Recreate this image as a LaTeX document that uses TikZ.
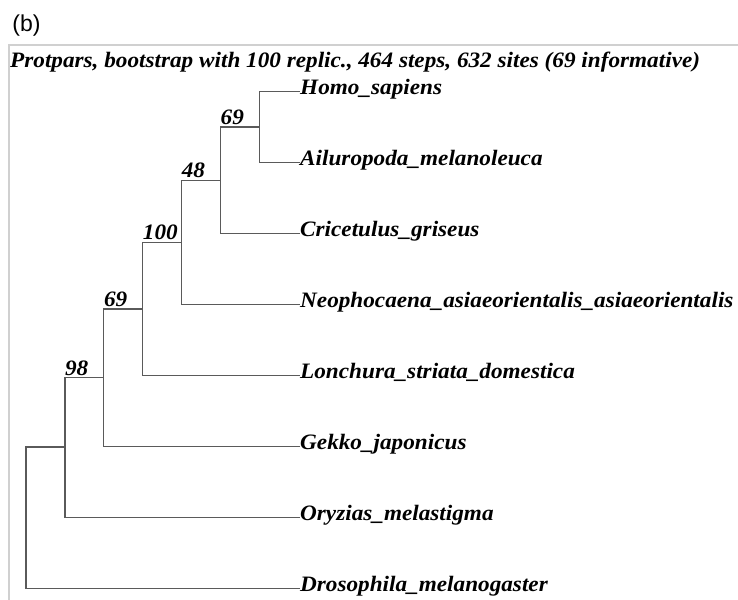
\documentclass[tikz,border=0pt]{standalone}
\usepackage{fontspec}
\setmainfont{Liberation Serif}
\setsansfont{Liberation Sans}
\newfontfamily\treefont{Liberation Serif}[FakeStretch=1.055]
\usetikzlibrary{positioning}

\definecolor{branchgray}{HTML}{5A5A5A}
\definecolor{framegray}{HTML}{D0D0D0}

\tikzset{
	leaf/.style={anchor=west,inner sep=0pt,font=\treefont\fontsize{22}{24}\selectfont\bfseries\itshape,
		text height=1.45ex,text depth=0pt},
	boot/.style={anchor=south west,inner sep=0pt,yshift=2pt,font=\treefont\fontsize{22}{24}\selectfont\bfseries\itshape},
	branch/.style={draw=branchgray,line width=1.3pt}
}

\begin{document}
\begin{tikzpicture}[x=1pt,y=-1pt]
					\useasboundingbox (0,0) rectangle (738,599);
					\node[font=\sffamily\fontsize{23}{25}\selectfont] (panel) at (26.5,26) {(b)};
					\draw[framegray,line width=1.5pt] (9,600) |- (739,45);
					\node[anchor=west,inner sep=0pt,font=\treefont\fontsize{22}{24}\selectfont\bfseries\itshape] (title) at (10,62)
					{Protpars, bootstrap with 100 replic., 464 steps, 632 sites (69 informative)};
					
					% leaves
					\node[leaf] (homo) at (300,91.5) {Homo\_sapiens};
					\node[leaf] (ailuro) at (300,162.5) {Ailuropoda\_melanoleuca};
					\node[leaf] (cricet) at (300,233.5) {Cricetulus\_griseus};
					\node[leaf] (neopho) at (300,304.5) {Neophocaena\_asiaeorientalis\_asiaeorientalis};
					\node[leaf] (lonch) at (300,375.5) {Lonchura\_striata\_domestica};
					\node[leaf] (gekko) at (300,446.5) {Gekko\_japonicus};
					\node[leaf] (oryz) at (300,517.5) {Oryzias\_melastigma};
					\node[leaf] (droso) at (300,588.5) {Drosophila\_melanogaster};
					
					% inner nodes
					\coordinate (n69a) at (259.4,127);
					\coordinate (n48) at (220.5,180.25);
					\coordinate (n100) at (181.6,242.4);
					\coordinate (n69b) at (142.7,308.9);
					\coordinate (n98) at (103.8,377.7);
					\coordinate (n1) at (64.9,447.1);
					\coordinate (root) at (26,517.3);
					
					\draw[branch] (n69a) |- (homo.west);
					\draw[branch] (n69a) |- (ailuro.west);
					\draw[branch] (n48) |- (n69a);
					\draw[branch] (n48) |- (cricet.west);
					\draw[branch] (n100) |- (n48);
					\draw[branch] (n100) |- (neopho.west);
					\draw[branch] (n69b) |- (n100);
					\draw[branch] (n69b) |- (lonch.west);
					\draw[branch] (n98) |- (n69b);
					\draw[branch] (n98) |- (gekko.west);
					\draw[branch] (n1) |- (n98);
					\draw[branch] (n1) |- (oryz.west);
					\draw[branch] (root) |- (n1);
					\draw[branch] (root) |- (droso.west);
					
					% bootstrap values
					\node[boot] (b69a) at (n48 |- n69a) {69};
					\node[boot] (b48) at (n100 |- n48) {48};
					\node[boot] (b100) at (n69b |- n100) {100};
					\node[boot] (b69b) at (n98 |- n69b) {69};
					\node[boot] (b98) at (n1 |- n98) {98};
				\end{tikzpicture}
\end{document}
